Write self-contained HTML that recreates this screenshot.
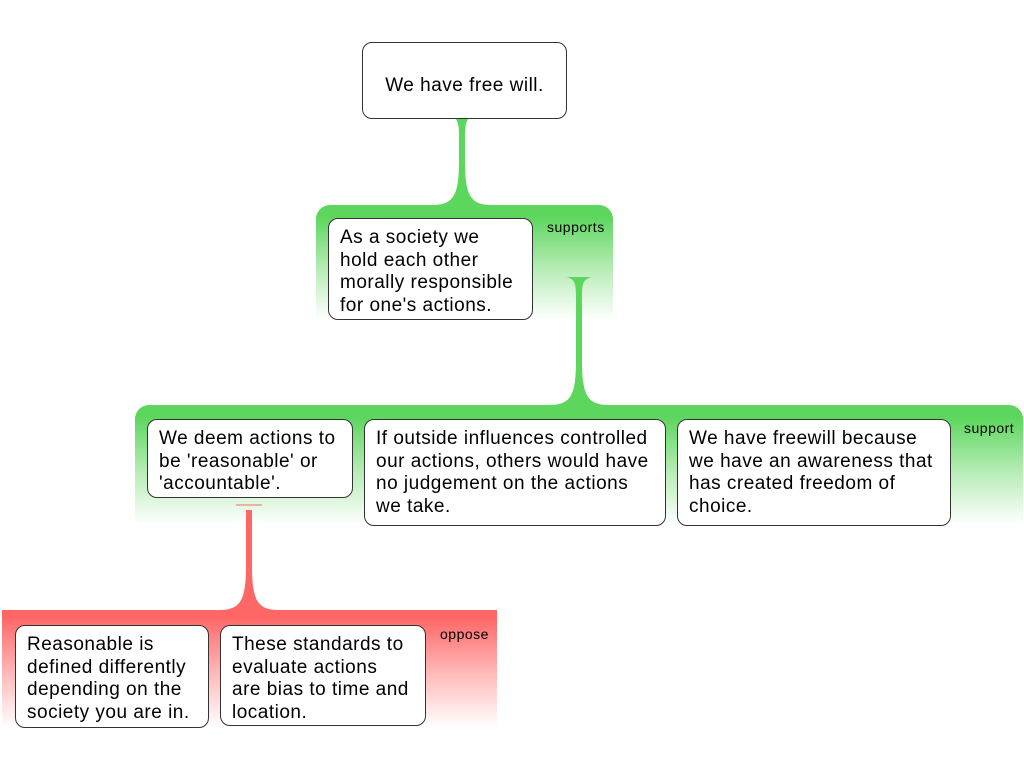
<!DOCTYPE html>
<html><head><style>
body{margin:0;width:1024px;height:768px;background:#fff;position:relative;overflow:hidden;font-family:"Liberation Sans",sans-serif;}
.g{position:absolute;border-radius:14px 14px 0 0;}
.gg{background:linear-gradient(#5cd65c 0%,#5cd65c 10%,#b5ecb5 55%,#fff 100%);}
.gr{background:linear-gradient(#f66 0%,#f66 6%,#fbb 55%,#fff 100%);border-radius:0;}
.b{position:absolute;background:#fff;border:1px solid #333;border-radius:10px;box-sizing:border-box;font-size:19px;letter-spacing:0.5px;line-height:22.5px;padding:8px 11px;color:#000;white-space:nowrap;}
.l{position:absolute;font-size:14px;letter-spacing:0.5px;color:#000;}
svg{position:absolute;left:0;top:0;}
</style></head><body>
<div class="g gg" style="left:316px;top:205px;width:297px;height:115px"></div>
<div class="g gg" style="left:135px;top:405px;width:888px;height:120px"></div>
<div class="g gr" style="left:2px;top:610px;width:495px;height:118px"></div>
<svg width="1024" height="768">
<path d="M455,118 L469,118 C465,122 465,130 465,140 L465,160 C465,195 470,205 492,205 L432,205 C454,205 459,195 459,160 L459,140 C459,130 459,122 455,118 Z" fill="#5cd65c"/>
<path d="M566,277 L592,277 C582,279 582,285 582,300 L582,360 C582,395 587,405 609,405 L549,405 C571,405 576,395 576,360 L576,300 C576,285 576,279 566,277 Z" fill="#5cd65c"/>
<line x1="236" y1="505" x2="262" y2="505" stroke="#f66" stroke-width="1"/>
<path d="M246,510 L252,510 L252,565 C252,600 257,610 279,610 L219,610 C241,610 246,600 246,565 Z" fill="#f66"/>
</svg>
<div class="b" style="left:362px;top:42px;width:205px;height:77px;text-align:center;padding-top:32px;padding-left:0;padding-right:0">We have free will.</div>
<div class="b" style="left:328px;top:218px;width:205px;height:102px">As a society we<br>hold each other<br>morally responsible<br>for one's actions.</div>
<div class="l" style="left:547px;top:219px">supports</div>
<div class="b" style="left:147px;top:419px;width:206px;height:79px">We deem actions to<br>be 'reasonable' or<br>'accountable'.</div>
<div class="b" style="left:364px;top:419px;width:302px;height:107px">If outside influences controlled<br>our actions, others would have<br>no judgement on the actions<br>we take.</div>
<div class="b" style="left:677px;top:419px;width:274px;height:107px">We have freewill because<br>we have an awareness that<br>has created freedom of<br>choice.</div>
<div class="l" style="left:964px;top:420px">support</div>
<div class="b" style="left:15px;top:625px;width:194px;height:103px">Reasonable is<br>defined differently<br>depending on the<br>society you are in.</div>
<div class="b" style="left:220px;top:625px;width:206px;height:101px">These standards to<br>evaluate actions<br>are bias to time and<br>location.</div>
<div class="l" style="left:440px;top:626px">oppose</div>
</body></html>
